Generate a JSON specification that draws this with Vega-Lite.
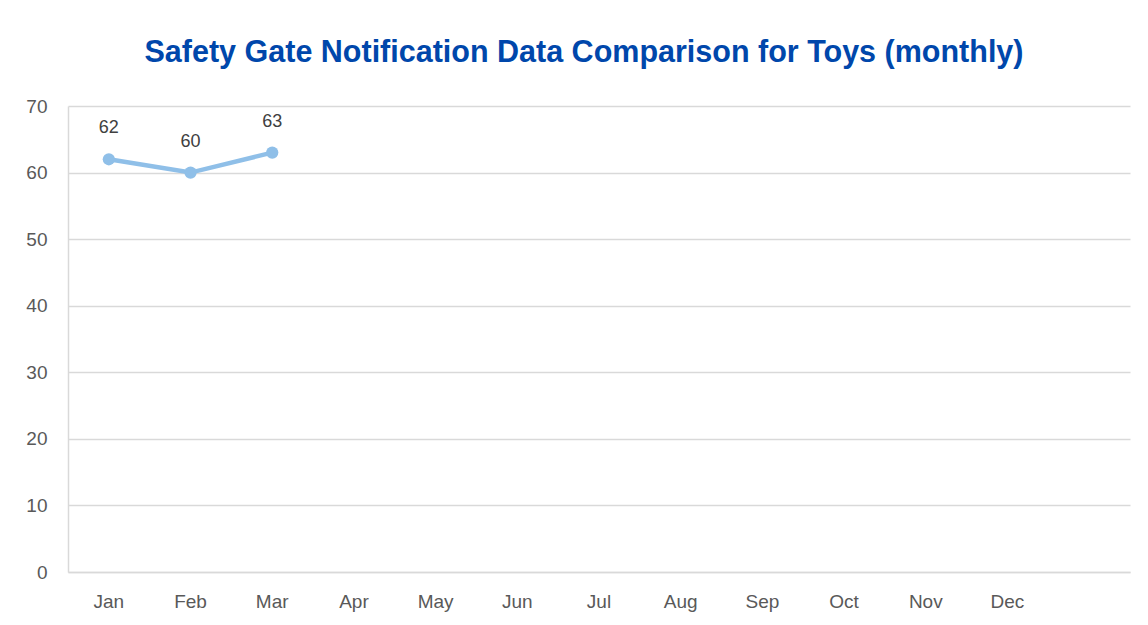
{
  "$schema": "https://vega.github.io/schema/vega-lite/v6.json",
  "width": 1062,
  "height": 466,
  "autosize": "none",
  "padding": {"left": 68, "top": 106, "right": 18, "bottom": 53},
  "background": "white",
  "title": {
    "text": "Safety Gate Notification Data Comparison for Toys (monthly)",
    "font": "Liberation Sans",
    "fontSize": 30.5,
    "fontWeight": "bold",
    "color": "#0047AB",
    "anchor": "middle",
    "dx": -15,
    "offset": 29
  },
  "config": {
    "view": {"stroke": null},
    "axis": {"labelFont": "Liberation Sans", "labelColor": "#595959", "titleFont": "Liberation Sans"}
  },
  "data": {
    "values": [
      {"month": "Jan", "count": 62},
      {"month": "Feb", "count": 60},
      {"month": "Mar", "count": 63}
    ]
  },
  "encoding": {
    "x": {
      "field": "month",
      "type": "ordinal",
      "sort": null,
      "scale": {"type": "band", "domain": ["Jan", "Feb", "Mar", "Apr", "May", "Jun", "Jul", "Aug", "Sep", "Oct", "Nov", "Dec", " "], "paddingInner": 0, "paddingOuter": 0},
      "axis": {"title": null, "labelAngle": 0, "labelFontSize": 19, "labelPadding": 20, "ticks": false, "domainColor": "#d9d9d9", "domainWidth": 1.5, "grid": false}
    },
    "y": {
      "field": "count",
      "type": "quantitative",
      "scale": {"domain": [0, 70]},
      "axis": {"title": null, "values": [0, 10, 20, 30, 40, 50, 60, 70], "labelFontSize": 19, "labelPadding": 21, "ticks": false, "domainColor": "#d9d9d9", "domainWidth": 1.5, "gridColor": "#d9d9d9", "gridWidth": 1.5}
    }
  },
  "layer": [
    {
      "mark": {"type": "line", "color": "#8FBFE8", "strokeWidth": 4.5, "point": {"filled": true, "size": 150, "color": "#8FBFE8"}}
    },
    {
      "mark": {"type": "text", "dy": -31, "font": "Liberation Sans", "fontSize": 18, "color": "#404040"},
      "encoding": {"text": {"field": "count", "type": "quantitative"}}
    }
  ]
}
